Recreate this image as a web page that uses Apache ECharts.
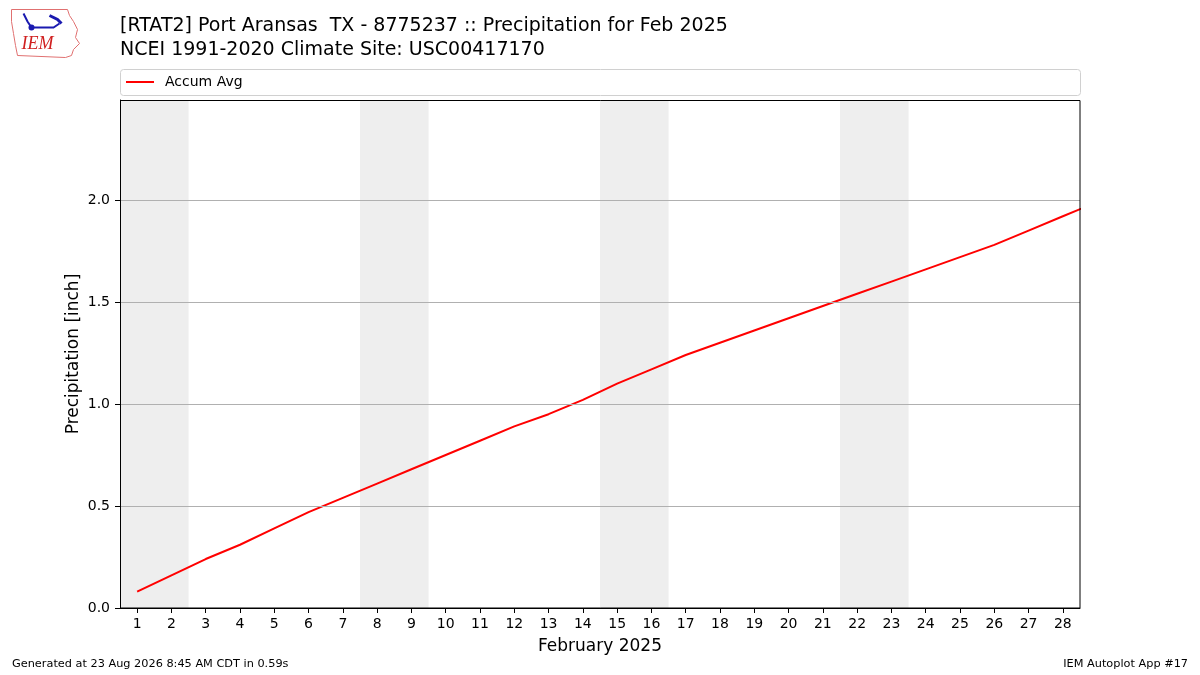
<!DOCTYPE html>
<html>
<head>
<meta charset="utf-8">
<script src="https://cdn.jsdelivr.net/npm/echarts@6/dist/echarts.min.js"></script>
<style>
  html, body { margin: 0; padding: 0; background: #fff; }
  #main { width: 1200px; height: 675px; }
</style>
</head>
<body>
<div id="main"></div>
<script>
// days of February 2025 (day 29 lies past the axis edge, clipped)
var days = [1, 2, 3, 4, 5, 6, 7, 8, 9, 10, 11, 12, 13, 14, 15,
            16, 17, 18, 19, 20, 21, 22, 23, 24, 25, 26, 27, 28, 29];
// accumulated average precipitation [inch]
var accumAvg = [0.08, 0.16, 0.24, 0.31, 0.39, 0.47, 0.54, 0.61, 0.68, 0.75,
                0.82, 0.89, 0.95, 1.02, 1.10, 1.17, 1.24, 1.30, 1.36, 1.42,
                1.48, 1.54, 1.60, 1.66, 1.72, 1.78, 1.85, 1.92, 1.99];
var tickDays = [1, 2, 3, 4, 5, 6, 7, 8, 9, 10, 11, 12, 13, 14,
                15, 16, 17, 18, 19, 20, 21, 22, 23, 24, 25, 26, 27, 28];
var yTicks = [0, 0.5, 1.0, 1.5, 2.0];
// weekends (shaded)
var weekends = [[0.5, 2.5], [7.5, 9.5], [14.5, 16.5], [21.5, 23.5]];

var FONT = 'DejaVu Sans';
var myChart = echarts.init(document.getElementById('main'));

var option = {
    animation: false,
    textStyle: { fontFamily: FONT, color: '#000' },
    title: {
        text: '[RTAT2] Port Aransas  TX - 8775237 :: Precipitation for Feb 2025\nNCEI 1991-2020 Climate Site: USC00417170',
        left: 120,
        top: 14,
        padding: 0,
        textStyle: { fontFamily: FONT, fontSize: 19, fontWeight: 'normal', lineHeight: 24, color: '#000' }
    },
    legend: {
        left: 126,
        top: 75,
        padding: 0,
        itemWidth: 28,
        itemHeight: 2,
        itemGap: 10,
        icon: 'rect',
        data: ['Accum Avg'],
        textStyle: { fontFamily: FONT, fontSize: 14, color: '#000', padding: [0, 0, 0, 6] }
    },
    grid: {
        left: 120, right: 120, top: 100, bottom: 67,
        show: false
    },
    xAxis: {
        type: 'value',
        min: 0.5,
        max: 28.5,
        z: 10,
        name: 'February 2025',
        nameLocation: 'middle',
        nameGap: 30,
        nameMoveOverlap: false,
        nameTextStyle: { fontFamily: FONT, fontSize: 17, color: '#000' },
        axisLine: { lineStyle: { color: '#000', width: 1 } },
        axisTick: { customValues: tickDays, length: 5, lineStyle: { color: '#000' } },
        axisLabel: { customValues: tickDays, fontFamily: FONT, fontSize: 14, color: '#000', margin: 9 },
        splitLine: { show: false }
    },
    yAxis: {
        type: 'value',
        min: 0,
        max: 2.49,
        interval: 0.5,
        z: 10,
        name: 'Precipitation [inch]',
        nameLocation: 'middle',
        nameGap: 38,
        nameMoveOverlap: false,
        nameTextStyle: { fontFamily: FONT, fontSize: 17, color: '#000' },
        axisLine: { show: true, lineStyle: { color: '#000', width: 1 } },
        axisTick: { show: true, customValues: yTicks, length: 5, lineStyle: { color: '#000' } },
        axisLabel: {
            customValues: yTicks,
            fontFamily: FONT, fontSize: 14, color: '#000', margin: 10,
            formatter: function (v) { return v.toFixed(1); }
        },
        splitLine: { show: true, lineStyle: { color: '#b0b0b0', width: 1 } }
    },
    series: [{
        name: 'Accum Avg',
        type: 'line',
        data: days.map(function (d, i) { return [d, accumAvg[i]]; }),
        showSymbol: false,
        symbol: 'none',
        clip: true,
        color: '#ff0000',
        lineStyle: { color: '#ff0000', width: 2 },
        markArea: {
            silent: true,
            itemStyle: { color: '#eeeeee' },
            data: weekends.map(function (w) { return [{ xAxis: w[0] }, { xAxis: w[1] }]; })
        },
        z: 3
    }],
    graphic: [
        // legend frame
        {
            type: 'rect', left: 120, top: 69, z: 0,
            shape: { width: 960, height: 26, r: 3 },
            style: { fill: '#fff', stroke: '#d0d0d0', lineWidth: 1 }
        },
        // plot frame (top and right spines)
        {
            type: 'rect', z: 20, silent: true,
            shape: { x: 120.5, y: 100.5, width: 959.5, height: 507.5 },
            style: { fill: 'none', stroke: '#000', lineWidth: 1 }
        },
        // simplified IEM logo
        {
            type: 'group', left: 9, top: 7,
            children: [
                {
                    type: 'polyline',
                    shape: { points: [[2, 2], [58, 2], [60, 8], [64, 14], [68, 22], [66, 30], [70, 36], [64, 42], [62, 48], [56, 50], [8, 48], [6, 38], [4, 26], [2, 14], [2, 2]] },
                    style: { stroke: '#e07070', lineWidth: 1, fill: 'none' }
                },
                {
                    type: 'polyline',
                    shape: { points: [[14, 6], [18, 14], [22, 20], [44, 20], [50, 16]] },
                    style: { stroke: '#1a1ab0', lineWidth: 2, fill: 'none' }
                },
                {
                    type: 'circle', shape: { cx: 22, cy: 20, r: 3 },
                    style: { fill: '#1a1ab0' }
                },
                {
                    type: 'polyline',
                    shape: { points: [[40, 8], [48, 12], [52, 16]] },
                    style: { stroke: '#1a1ab0', lineWidth: 3, fill: 'none' }
                },
                {
                    type: 'text', left: 12, top: 28,
                    style: { text: 'IEM', font: 'italic 18px "Liberation Serif"', fill: '#d02020' }
                }
            ]
        },
        // footer
        {
            type: 'text', left: 12, top: 659,
            style: { text: 'Generated at 23 Aug 2026 8:45 AM CDT in 0.59s', font: '11.3px "DejaVu Sans"', fill: '#000' }
        },
        {
            type: 'text', right: 12, top: 659,
            style: { text: 'IEM Autoplot App #17', font: '11.3px "DejaVu Sans"', fill: '#000' }
        }
    ]
};
myChart.setOption(option);
</script>
</body>
</html>
